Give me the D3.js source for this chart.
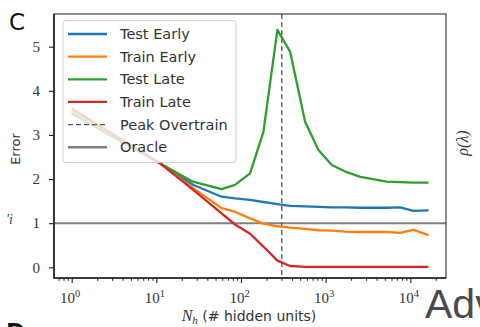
<!DOCTYPE html>
<html>
<head>
<meta charset="utf-8">
<script src="https://cdn.jsdelivr.net/npm/d3@7"></script>
<style>
  body { margin: 0; background: #fff; }
  svg { display: block; }
  .tick text { font-family: "Liberation Serif", serif; }
</style>
</head>
<body>
<div id="chart"></div>
<script>
// values
const nh = [1, 11, 27, 59, 85, 128, 184, 269, 380, 572, 822, 1183, 1700, 2570, 5260, 7560, 10900, 16400];
const testEarly = [3.52, 2.36, 1.87, 1.60, 1.56, 1.53, 1.48, 1.43, 1.39, 1.38, 1.37, 1.36, 1.36, 1.35, 1.35, 1.36, 1.28, 1.29];
const trainEarly = [3.55, 2.36, 1.80, 1.34, 1.26, 1.11, 0.99, 0.93, 0.90, 0.87, 0.84, 0.83, 0.81, 0.80, 0.80, 0.78, 0.85, 0.73];
const testLate = [3.48, 2.36, 1.94, 1.77, 1.87, 2.13, 3.07, 5.38, 4.89, 3.30, 2.66, 2.32, 2.17, 2.05, 1.94, 1.93, 1.92, 1.92];
const trainLate = [3.6, 2.36, 1.76, 1.22, 0.97, 0.76, 0.47, 0.15, 0.03, 0.01, 0.01, 0.01, 0.01, 0.01, 0.01, 0.01, 0.01, 0.01];
const seriesNames = ['Test Early', 'Train Early', 'Test Late', 'Train Late'];
const seriesColors = ['#1f77b4', '#ff7f0e', '#2ca02c', '#d62728'];
const peakOvertrain = 303;
const oracle = 1;
const yTicks = [0, 1, 2, 3, 4, 5];
const xMajor = [1, 10, 100, 1000, 10000];

const width = 480;
const height = 327;
const mLeft = 54, mRight = 446, mTop = 14, mBottom = 278;

const svg = d3.select('#chart')
    .append('svg')
    .attr('width', width)
    .attr('height', height)

const x = d3.scaleLog().domain([0.618, 26400]).range([mLeft, mRight])
const y = d3.scaleLinear().domain([-0.2425, 5.741]).range([mBottom, mTop])

const allSeries = [testEarly, trainEarly, testLate, trainLate]

//Oracle and peak lines

svg.append('line')
    .attr('x1', mLeft).attr('x2', mRight)
    .attr('y1', y(oracle)).attr('y2', y(oracle))
    .attr('stroke', '#808080')
    .attr('stroke-width', 2)

svg.append('line')
    .attr('x1', x(peakOvertrain)).attr('x2', x(peakOvertrain))
    .attr('y1', mTop).attr('y2', mBottom)
    .attr('stroke', '#555')
    .attr('stroke-width', 1.3)
    .attr('stroke-dasharray', '5,3')

//Curves

const line = d3.line()
    .x((d, i) => x(nh[i]))
    .y((d) => y(d))

svg.selectAll('.curve')
    .data(allSeries)
    .enter()
    .append('path')
    .attr('class', 'curve')
    .attr('d', line)
    .attr('fill', 'none')
    .attr('stroke', (d, i) => seriesColors[i])
    .attr('stroke-width', 2.3)
    .attr('stroke-linejoin', 'round')

//Axes

const minor = []
for (let e = -1; e <= 4; e++) {
    for (let m = 2; m <= 9; m++) {
        const v = m * Math.pow(10, e)
        if (v >= 0.618 && v <= 26400) minor.push(v)
    }
}

svg.append('g')
    .attr('transform', 'translate(0,' + mBottom + ')')
    .call(d3.axisBottom(x).tickValues(minor).tickSize(2.8).tickFormat(''))
    .call((g) => g.select('.domain').remove())
    .call((g) => g.selectAll('line').attr('stroke', '#222').attr('stroke-width', 1))

const xAxis = svg.append('g')
    .attr('transform', 'translate(0,' + mBottom + ')')
    .call(d3.axisBottom(x).tickValues(xMajor).tickSize(5).tickFormat(''))
    .call((g) => g.select('.domain').remove())
    .call((g) => g.selectAll('line').attr('stroke', '#222').attr('stroke-width', 1.1))

xAxis.selectAll('.tick')
    .append('text')
    .attr('y', 25)
    .attr('x', -2)
    .attr('fill', '#333')
    .attr('text-anchor', 'middle')
    .style('font-size', '15px')
    .each(function (d) {
        const t = d3.select(this)
        t.append('tspan').text('10')
        t.append('tspan')
            .attr('dy', -6)
            .style('font-size', '10.5px')
            .text(Math.round(Math.log10(d)))
    })

svg.append('g')
    .attr('transform', 'translate(' + mLeft + ',0)')
    .call(d3.axisLeft(y).tickValues(yTicks).tickSize(5).tickPadding(9).tickFormat(d3.format('d')))
    .call((g) => g.select('.domain').remove())
    .call((g) => g.selectAll('line').attr('stroke', '#222').attr('stroke-width', 1.1))
    .call((g) => g.selectAll('text')
        .attr('fill', '#333')
        .style('font-size', '15px'))

//Spines

svg.append('rect')
    .attr('x', mLeft).attr('y', mTop)
    .attr('width', mRight - mLeft).attr('height', mBottom - mTop)
    .attr('fill', 'none')
    .attr('stroke', '#333')
    .attr('stroke-width', 1.1)

svg.append('path')
    .attr('d', 'M' + mLeft + ',' + mTop + 'V' + mBottom + 'H' + mRight)
    .attr('fill', 'none')
    .attr('stroke', '#222')
    .attr('stroke-width', 1.6)

//Legend

const legend = svg.append('g')

legend.append('rect')
    .attr('x', 63).attr('y', 20.5)
    .attr('width', 173).attr('height', 142)
    .attr('rx', 3)
    .attr('fill', 'white')
    .attr('fill-opacity', 0.8)
    .attr('stroke', '#d0d0d0')

const legendItems = seriesNames.map((n, i) => ({ name: n, color: seriesColors[i], dash: null }))
    .concat([
        { name: 'Peak Overtrain', color: '#555', dash: '5,3', w: 1.3 },
        { name: 'Oracle', color: '#808080', dash: null }
    ])

const legendRow = legend.selectAll('.item')
    .data(legendItems)
    .enter()
    .append('g')
    .attr('class', 'item')
    .attr('transform', (d, i) => 'translate(0,' + (34 + i * 22.65) + ')')

legendRow.append('line')
    .attr('x1', 68).attr('x2', 107)
    .attr('stroke', (d) => d.color)
    .attr('stroke-width', (d) => d.w || 2.3)
    .attr('stroke-dasharray', (d) => d.dash)

legendRow.append('text')
    .attr('x', 120)
    .attr('y', 5)
    .attr('fill', '#333')
    .style('font-family', 'DejaVu Sans, sans-serif')
    .style('font-size', '14.5px')
    .text((d) => d.name)

//Labels

svg.append('text')
    .attr('transform', 'translate(19.5,149) rotate(-90)')
    .attr('text-anchor', 'middle')
    .attr('fill', '#333')
    .style('font-family', 'DejaVu Sans, sans-serif')
    .style('font-size', '13px')
    .text('Error')

const xLabel = svg.append('text')
    .attr('x', 249)
    .attr('y', 321)
    .attr('text-anchor', 'middle')
    .attr('fill', '#333')
    .style('font-family', 'DejaVu Sans, sans-serif')
    .style('font-size', '14px')

xLabel.append('tspan')
    .style('font-family', 'Liberation Serif, serif')
    .style('font-style', 'italic')
    .style('font-size', '16px')
    .text('N')
xLabel.append('tspan')
    .attr('dy', 3)
    .style('font-family', 'Liberation Serif, serif')
    .style('font-style', 'italic')
    .style('font-size', '11px')
    .text('h')
xLabel.append('tspan')
    .attr('dy', -3)
    .text(' (# hidden units)')

svg.append('text')
    .attr('x', 9)
    .attr('y', 30)
    .attr('fill', '#111')
    .style('font-family', 'DejaVu Sans, sans-serif')
    .style('font-size', '23px')
    .text('C')

svg.append('text')
    .attr('x', 6)
    .attr('y', 340)
    .attr('fill', '#111')
    .style('font-family', 'DejaVu Sans, sans-serif')
    .style('font-weight', 'bold')
    .style('font-size', '23px')
    .text('D')

svg.append('text')
    .attr('x', 6)
    .attr('y', 224)
    .attr('fill', '#3a4060')
    .style('font-family', 'Liberation Serif, serif')
    .style('font-style', 'italic')
    .style('font-size', '14px')
    .text('\u2032i')

svg.append('text')
    .attr('transform', 'translate(468,143) rotate(-90)')
    .attr('text-anchor', 'middle')
    .attr('fill', '#333')
    .style('font-family', 'Liberation Serif, serif')
    .style('font-style', 'italic')
    .style('font-size', '16px')
    .text('\u03c1(\u03bb)')

svg.append('text')
    .attr('x', 425)
    .attr('y', 318)
    .attr('fill', '#4a4a4a')
    .style('font-family', 'Liberation Sans, sans-serif')
    .style('font-size', '41px')
    .text('Adv')
</script>
</body>
</html>
